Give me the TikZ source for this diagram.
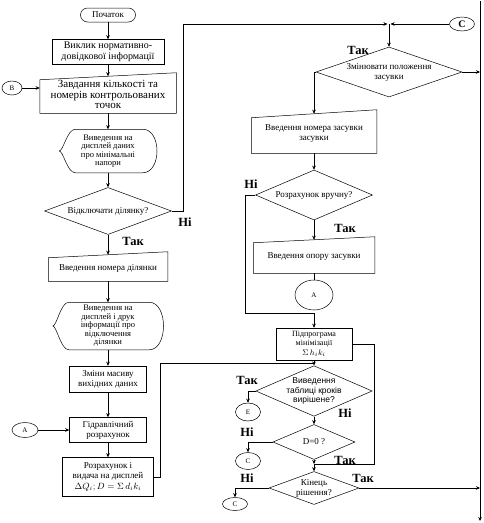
\documentclass[tikz,border=0pt]{standalone}
\usepackage{fontspec}
\setmainfont{Liberation Serif}
\newfontfamily\arialfont{Liberation Sans}
\usetikzlibrary{shapes.geometric, arrows.meta}

\tikzset{
  startstop/.style={draw, rounded corners=7pt, minimum width=55pt, minimum height=14pt},
  procbox/.style 2 args={draw, rectangle, minimum width=#1, minimum height=#2},
  inbox/.style 2 args={rectangle, minimum width=#1, minimum height=#2},
  decision/.style n args={3}{draw, diamond, minimum width=#1, minimum height=#2, aspect=#3},
  connector/.style 2 args={draw, ellipse, minimum width=#1, minimum height=#2, font=\fontsize{7}{8}\selectfont},
  answer/.style={font=\bfseries\fontsize{12.5}{13}\selectfont},
}

% slanted top (manual input)
\newcommand{\manualin}[2]{\draw ([yshift=-#2]#1.north west) -- ([yshift=#2]#1.north east) -- (#1.south east) -- (#1.south west) -- cycle;}
% display shape
\newcommand{\dispout}[1]{\draw (#1.west) .. controls ([xshift=4pt]#1.west) and ([xshift=8pt]#1.north west) .. ([xshift=16pt]#1.north west) -- ([xshift=-14pt]#1.north east) .. controls ([xshift=5pt]#1.north east) and ([xshift=5pt]#1.south east) .. ([xshift=-14pt]#1.south east) -- ([xshift=16pt]#1.south west) .. controls ([xshift=8pt]#1.south west) and ([xshift=4pt]#1.west) .. (#1.west);}

\begin{document}
\begin{tikzpicture}[x=1pt, y=-1pt, >={Stealth[length=4pt,width=3.5pt]}, line width=0.5pt,
  every node/.style={font=\fontsize{9}{10}\selectfont, align=center, inner sep=0pt}]
\useasboundingbox (0,0) rectangle (484,523);

% left column
\node[startstop] (start) at (108,15) {Початок};
\node[procbox={112pt}{25pt}, font=\fontsize{10}{11.5}\selectfont] (call) at (108,52) {Виклик нормативно-\\довідкової інформації};
\node[inbox={136pt}{36.5pt}, font=\fontsize{11}{10.5}\selectfont] (task) at (108,94.75) {Завдання кількості та\\номерів контрольованих\\точок};
\node[connector={20pt}{14pt}] (bconn) at (12,88) {В};
\node[inbox={97pt}{43pt}, font=\fontsize{8.5}{8.5}\selectfont] (show1) at (108,151) {Виведення на\\дисплей даних\\про мінімальні\\напори};
\node[decision={127pt}{47pt}{2.7}] (cut) at (108,211) {Відключати ділянку?};
\node[answer] (no1) at (185,222) {Ні};
\node[answer] (yes1) at (133,241) {Так};
\node[inbox={119pt}{26pt}] (sect) at (108,268) {Введення номера ділянки};
\node[inbox={110pt}{47pt}, font=\fontsize{8.5}{8.5}\selectfont] (show2) at (108,326) {Виведення на\\дисплей і друк\\інформації про\\відключення\\ділянки};
\node[procbox={77pt}{26pt}] (change) at (108,379) {Зміни масиву\\вихідних даних};
\node[procbox={77pt}{25pt}] (hydro) at (108,430) {Гідравлічний\\розрахунок};
\node[connector={26pt}{15pt}] (aconn1) at (25,430) {А};
\node[procbox={91pt}{39pt}] (calc) at (108,477) {Розрахунок і\\видача на дисплей\\[1pt]$\Delta Q_i; D=\Sigma\, d_i k_i$};

% right column
\node[connector={25pt}{14pt}, font=\fontsize{10}{10}\selectfont\bfseries] (ctop) at (462,24) {С};
\coordinate (jtop) at (389,24);
\node[decision={146pt}{50pt}{2.9}] (move) at (389,72) {Змінювати положення\\засувки};
\node[answer] (yes2) at (358,50) {Так};
\node[inbox={125pt}{39pt}] (valve) at (314,133.5) {Введення номера засувки\\засувки};
\node[decision={117pt}{50pt}{2.3}] (hand) at (314,195) {Розрахунок вручну?};
\node[answer] (no2) at (251,184) {Ні};
\node[answer] (yes3) at (345,228) {Так};
\node[inbox={121pt}{33pt}] (resist) at (314,256.5) {Введення опору засувки};
\node[connector={38pt}{30pt}] (aconn2) at (314,295) {А};
\coordinate (jmid) at (314,313);
\node[procbox={76pt}{32pt}, font=\fontsize{8}{9}\selectfont] (sub) at (314,344) {Підпрограма\\мінімізації\\[1pt]$\Sigma\, h_i k_i$};
\coordinate (jlow) at (314,363);
\node[decision={109pt}{47pt}{2.3}, font=\arialfont\fontsize{8.5}{9.5}\selectfont] (table) at (314,391) {Виведення\\таблиці кроків\\вирішене?};
\node[answer] (yes4) at (247,380) {Так};
\node[connector={25pt}{18pt}] (econn) at (248,412) {Е};
\node[answer] (no4) at (345,413) {Ні};
\node[decision={82pt}{35pt}{2.3}] (dzero) at (314,442) {D=0 ?};
\node[answer] (no5) at (247,432) {Ні};
\node[connector={25pt}{17pt}] (cconn1) at (248,461) {С};
\node[answer] (yes5) at (345,460) {Так};
\coordinate (jend) at (314,464);
\node[decision={90pt}{33pt}{2.7}] (finish) at (314,488) {Кінець\\рішення?};
\node[answer] (no6) at (247,478) {Ні};
\node[answer] (yes6) at (363,478) {Так};
\node[connector={25pt}{13pt}] (cconn2) at (235,504) {С};
\coordinate (rtop) at (480,1);
\coordinate (rbot) at (480,521);

\manualin{task}{3.5pt}
\manualin{sect}{3pt}
\manualin{valve}{4pt}
\manualin{resist}{3pt}
\dispout{show1}
\dispout{show2}

% connectors, left
\draw[->] (start) -- (call);
\draw[->] (call) -- (task);
\draw[->] (bconn) -- (bconn -| task.west);
\draw[->] (task) -- (show1);
\draw[->] (show1) -- (cut);
\draw[->] (cut) -- (sect);
\draw[->] (sect) -- (show2);
\draw[->] (show2) -- (change);
\draw[->] (change) -- (hydro);
\draw[->] (aconn1) -- (hydro);
\draw[->] (hydro) -- (calc);
\draw[->] (cut.east) -- ++(11,0) |- ([xshift=-1.5pt]jtop);
\draw[->] (calc.east) -- ++(6,0) |- (jlow) -- (table.north);

% connectors, right
\draw[->] (ctop) -- ([xshift=1.5pt]jtop);
\draw[->] (jtop) -- (move.north);
\draw[->] (move.east) -- (move.east -| rtop);
\draw[->] (move.west) -| (valve.north);
\draw[->] (valve) -- (hand);
\draw[->] (hand) -- (resist);
\draw (resist) -- (aconn2);
\draw[->] (hand.west) -- ++(-10,0) |- (jmid) -- (sub.north);
\draw (sub) -- (jlow);
\draw (sub.east) -- ++(22,0) |- (jend);
\draw[->] (table.west) -| (econn);
\draw[->] (table) -- (dzero);
\draw[->] (dzero.west) -| (cconn1);
\draw[->] (dzero) -- (jend);
\draw[->] (jend) -- (finish);
\draw[->] (finish.west) -| (cconn2);
\draw[->] (finish.east) -- (finish.east -| rtop);
\draw[->] (rtop) -- (rbot);
\end{tikzpicture}
\end{document}
